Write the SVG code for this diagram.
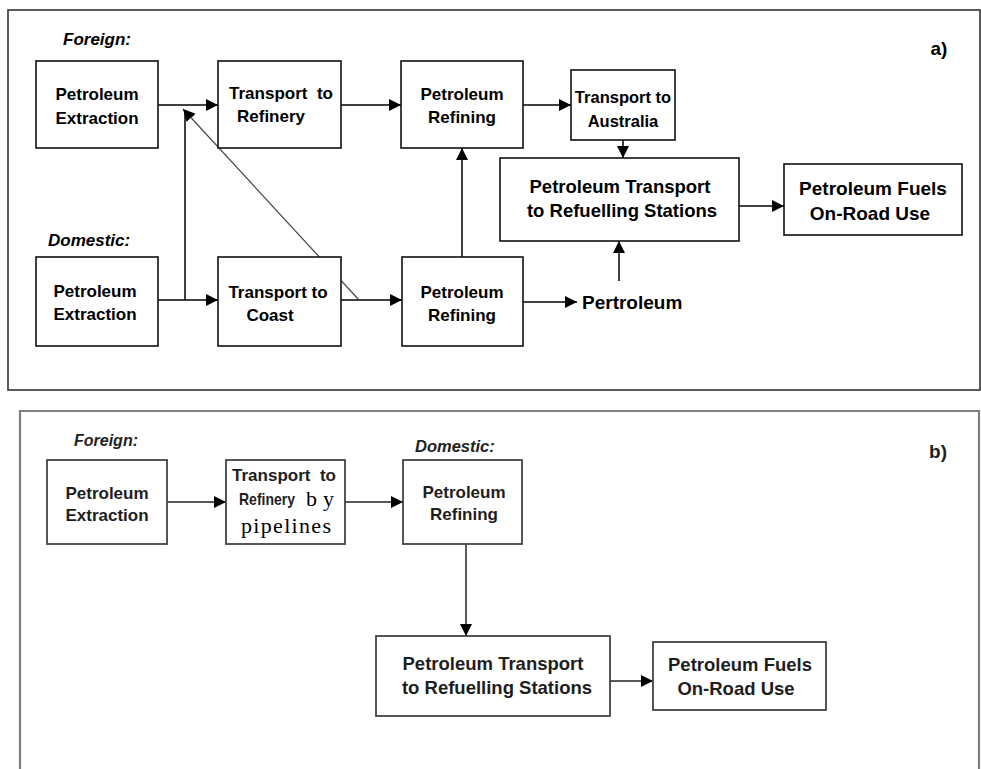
<svg xmlns="http://www.w3.org/2000/svg" width="981" height="769" viewBox="0 0 981 769">
<defs>
<marker id="ah" markerUnits="userSpaceOnUse" markerWidth="12" markerHeight="12" refX="12" refY="6" orient="auto">
<path d="M0,0 L12,6 L0,12 z" fill="#000"/>
</marker>
<style>
.panelA{fill:none;stroke:#333;stroke-width:1.6}
.panelB{fill:none;stroke:#808080;stroke-width:2.2}
.box{fill:#fff;stroke:#111;stroke-width:1.6}
.boxb{fill:#fff;stroke:#444;stroke-width:1.8}
.c{fill:none;stroke:#000;stroke-width:1.5}
.cb{fill:none;stroke:#222;stroke-width:1.5}
.a{marker-end:url(#ah)}
.t{font-family:"Liberation Sans",Arial,sans-serif;font-weight:bold;fill:#000;text-anchor:middle}
.tb{font-family:"Liberation Sans",Arial,sans-serif;font-weight:bold;fill:#1e1e1e;text-anchor:middle}
.s17{font-size:17px}
.s16{font-size:16.5px}
.s18{font-size:18.5px}
.s19{font-size:19px}
.lab{font-family:"Liberation Sans",Arial,sans-serif;font-weight:bold;font-style:italic;font-size:17px;fill:#000}
.serif{font-family:"Liberation Serif","Times New Roman",serif;font-size:22px;fill:#000}
</style>
</defs>

<!-- panel frames -->
<rect class="panelA" x="8" y="10" width="972" height="380"/>
<path class="panelB" d="M20,775 V411 H979 V775"/>

<!-- connectors -->
<g id="connectors">
<line class="c a" x1="158" y1="105" x2="218" y2="105"/>
<line class="c a" x1="341" y1="105" x2="401" y2="105"/>
<line class="c a" x1="523" y1="105" x2="571" y2="105"/>
<line class="c a" x1="623" y1="140" x2="623" y2="158"/>
<line class="c a" x1="739" y1="206" x2="784" y2="206"/>
<line class="c a" x1="158" y1="300" x2="218" y2="300"/>
<line class="c a" x1="341" y1="300" x2="402" y2="300"/>
<line class="c a" x1="462" y1="257" x2="462" y2="148"/>
<line class="c a" x1="523" y1="302" x2="577" y2="302"/>
<line class="c a" x1="619" y1="281" x2="619" y2="241"/>
<line class="c" x1="185" y1="300" x2="185" y2="112"/>
<line class="a" x1="359" y1="300" x2="183" y2="109" stroke="#444" stroke-width="1.2"/>

<line class="cb a" x1="167" y1="502" x2="226" y2="502"/>
<line class="cb a" x1="345" y1="502" x2="403" y2="502"/>
<line class="cb a" x1="466" y1="544" x2="466" y2="636"/>
<line class="cb a" x1="610" y1="681" x2="653" y2="681"/>
</g>

<!-- panel a labels -->
<text class="lab" x="63" y="45">Foreign:</text>
<text class="lab" x="48" y="246">Domestic:</text>
<text class="t s19" x="939" y="55">a)</text>

<g id="a_foreign_extraction">
<rect class="box" x="36" y="61" width="122" height="87"/>
<text class="t s17" x="97" y="100">Petroleum</text>
<text class="t s17" x="97" y="124">Extraction</text>
</g>
<g id="a_transport_refinery">
<rect class="box" x="218" y="61" width="123" height="87"/>
<text class="t s17" x="281" y="99" xml:space="preserve">Transport  to</text>
<text class="t s17" x="271" y="122">Refinery</text>
</g>
<g id="a_refining_foreign">
<rect class="box" x="401" y="61" width="122" height="87"/>
<text class="t s17" x="462" y="100">Petroleum</text>
<text class="t s17" x="462" y="123">Refining</text>
</g>
<g id="a_transport_australia">
<rect class="box" x="571" y="70" width="104" height="70"/>
<text class="t s16" x="623" y="103">Transport to</text>
<text class="t s16" x="623" y="127">Australia</text>
</g>
<g id="a_transport_stations">
<rect class="box" x="500" y="158" width="239" height="83"/>
<text class="t s18" x="620" y="193">Petroleum Transport</text>
<text class="t s18" x="622" y="217">to Refuelling Stations</text>
</g>
<g id="a_fuels">
<rect class="box" x="784" y="164" width="178" height="71"/>
<text class="t s19" x="873" y="195">Petroleum Fuels</text>
<text class="t s19" x="870" y="220">On-Road Use</text>
</g>
<g id="a_domestic_extraction">
<rect class="box" x="36" y="257" width="122" height="89"/>
<text class="t s17" x="95" y="297">Petroleum</text>
<text class="t s17" x="95" y="320">Extraction</text>
</g>
<g id="a_transport_coast">
<rect class="box" x="218" y="257" width="123" height="89"/>
<text class="t s17" x="278" y="298">Transport to</text>
<text class="t s17" x="270" y="321">Coast</text>
</g>
<g id="a_refining_domestic">
<rect class="box" x="402" y="257" width="121" height="89"/>
<text class="t s17" x="462" y="298">Petroleum</text>
<text class="t s17" x="462" y="321">Refining</text>
</g>
<g id="a_pertroleum">
<text class="t s19" x="582" y="309" style="text-anchor:start">Pertroleum</text>
</g>

<!-- panel b -->
<text class="lab" x="74" y="446" style="font-size:16px;fill:#222">Foreign:</text>
<text class="lab" x="415" y="452" style="font-size:16.5px;fill:#222">Domestic:</text>
<text class="tb s19" x="938" y="458">b)</text>

<g id="b_extraction">
<rect class="boxb" x="47" y="460" width="120" height="84"/>
<text class="tb s17" x="107" y="499">Petroleum</text>
<text class="tb s17" x="107" y="521">Extraction</text>
</g>
<g id="b_transport_pipelines">
<rect class="boxb" x="226" y="460" width="119" height="84"/>
<text class="tb s17" x="284" y="481" xml:space="preserve">Transport  to</text>
<text class="tb s17" x="239" y="505" style="text-anchor:start" textLength="56" lengthAdjust="spacingAndGlyphs">Refinery</text>
<text class="serif" x="306" y="506" textLength="28" lengthAdjust="spacing">by</text>
<text class="serif" x="241" y="533" textLength="90" lengthAdjust="spacing">pipelines</text>
</g>
<g id="b_refining">
<rect class="boxb" x="403" y="460" width="119" height="84"/>
<text class="tb s17" x="464" y="498">Petroleum</text>
<text class="tb s17" x="464" y="520">Refining</text>
</g>
<g id="b_transport_stations">
<rect class="boxb" x="376" y="636" width="234" height="80"/>
<text class="tb s18" x="493" y="670">Petroleum Transport</text>
<text class="tb s18" x="497" y="694">to Refuelling Stations</text>
</g>
<g id="b_fuels">
<rect class="boxb" x="653" y="642" width="173" height="68"/>
<text class="tb s18" x="740" y="671">Petroleum Fuels</text>
<text class="tb s18" x="736" y="695">On-Road Use</text>
</g>
</svg>
